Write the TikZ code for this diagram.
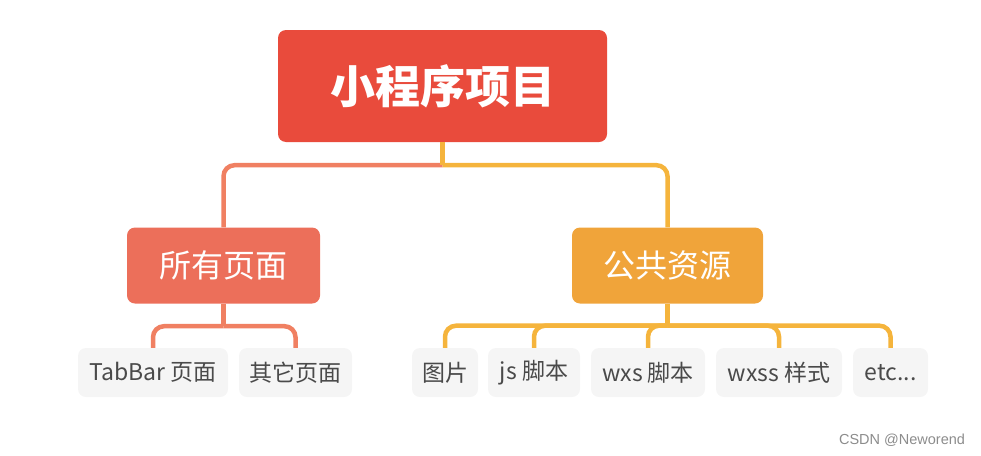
\documentclass[tikz,border=0pt]{standalone}
\usepackage{fontspec}
\setmainfont{Noto Sans CJK SC}
\newfontfamily\markfont{Liberation Sans}
\usepackage{tikz}
\usetikzlibrary{positioning}
\tikzset{
  box/.style = {align=center, inner sep=0pt, rounded corners=8pt, draw=none, text
  centered},
  box_top/.style = {box, fill=my_red, text=white, minimum height=112pt, font=\fontsize{45}{50}\selectfont\bfseries},
  box_mid/.style = {box, text=white, minimum height=76pt, font=\fontsize{32}{36}\selectfont},
  box_leaf/.style = {box, fill=my_grey, text=my_text, minimum height=49pt, font=\fontsize{23}{27}\selectfont}
}
\definecolor{my_red}{RGB}{233, 75, 60}
\definecolor{my_salmon}{RGB}{236, 111, 90}
\definecolor{my_orange}{RGB}{240, 164, 58}
\definecolor{my_line1}{RGB}{240, 128, 98}
\definecolor{my_line2}{RGB}{245, 180, 60}
\definecolor{my_grey}{RGB}{245, 245, 245}
\definecolor{my_text}{RGB}{74, 74, 74}

\begin{document}
\begin{tikzpicture}[x=1pt, y=-1pt,
        conn/.style={line width=4.5pt, rounded corners=11pt},
        left/.style={conn, draw=my_line1},
        right/.style={conn, draw=my_line2}]
    \useasboundingbox (0,0) rectangle (981,455);
    % root and second level
    \node (root) [box_top, minimum width=329pt] at (442.5,86) {小程序项目};
    \node (pages) [box_mid, fill=my_salmon, minimum width=193pt] at (223.5,265.5) {所有页面};
    \node (res) [box_mid, fill=my_orange, minimum width=191pt] at (667.5,265.5) {公共资源};
    % leaves
    \node (tabbar) [box_leaf, minimum width=150pt] at (153,372.5) {TabBar 页面};
    \node (other) [box_leaf, minimum width=113pt] at (295.5,372.5) {其它页面};
    \node (img) [box_leaf, minimum width=66pt] at (445,372.5) {图片};
    \node (js) [box_leaf, minimum width=92pt] at (534,372.5) {js 脚本};
    \node (wxs) [box_leaf, minimum width=114pt] at (648,372.5) {wxs 脚本};
    \node (wxss) [box_leaf, minimum width=126pt] at (779,372.5) {wxss 样式};
    \node (etc) [box_leaf, minimum width=75pt] at (890.5,372.5) {etc...};
    % connectors
    \draw [left] (root.south) ++(0,23) coordinate (rootj) -| (pages.north);
    \draw [right] (rootj) -| (res.north);
    \draw [right] (root.south) -- (rootj);
    \draw [left] (pages.south) -- ++(0,22.5) coordinate (pagesj);
    \foreach \n in {tabbar,other}
      \draw [left] (pagesj) -| (\n.north);
    \draw [right] (res.south) -- ++(0,22) coordinate (resj);
    \foreach \n in {img,js,wxs,wxss,etc}
      \draw [right] (resj) -| (\n.north);
    \node (mark) [font=\markfont\fontsize{14.5}{16}\selectfont, text=black!45] at (902,440) {CSDN @Neworend};
\end{tikzpicture}
\end{document}
